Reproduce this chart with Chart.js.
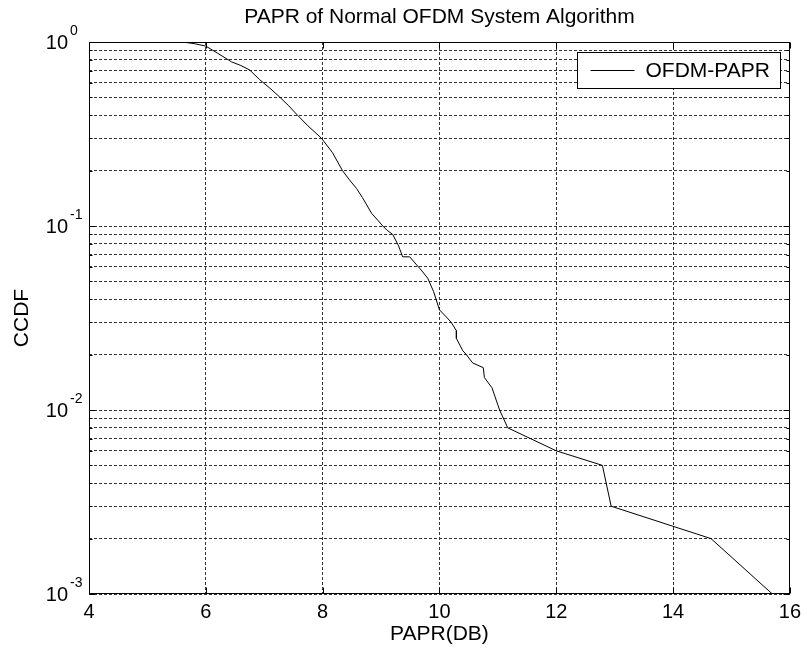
<!DOCTYPE html>
<html>
<head>
<meta charset="utf-8">
<script src="https://cdn.jsdelivr.net/npm/chart.js@4.4.0/dist/chart.umd.min.js"></script>
<style>
  html, body { margin: 0; padding: 0; background: #fff; }
  #wrap { width: 807px; height: 654px; }
</style>
</head>
<body>
<div id="wrap"><canvas id="papr"></canvas></div>
<script>
// PAPR (dB) values and the CCDF
var paprDb = [5.62, 5.8, 6.0, 6.2, 6.44, 6.6, 6.75, 6.92, 7.1, 7.26, 7.42, 7.57, 7.75, 7.98,
  8.17, 8.34, 8.46, 8.58, 8.68, 8.84, 8.95, 9.03, 9.1, 9.2, 9.3, 9.37, 9.49, 9.6, 9.7, 9.8,
  9.9, 10.0, 10.12, 10.2, 10.29, 10.29, 10.4, 10.46, 10.57, 10.75, 10.77, 10.9, 11.03, 11.17,
  12.0, 12.79, 12.94, 14.65, 15.7];
var ccdf = [0.998, 0.98, 0.95, 0.87, 0.78, 0.745, 0.705, 0.625, 0.56, 0.504, 0.45, 0.40, 0.35, 0.30,
  0.25, 0.20, 0.178, 0.16, 0.143, 0.117, 0.107, 0.100, 0.095, 0.09, 0.078, 0.068, 0.068, 0.062, 0.057, 0.052,
  0.044, 0.035, 0.032, 0.030, 0.027, 0.0245, 0.021, 0.020, 0.018, 0.017, 0.015, 0.0132, 0.010, 0.008,
  0.006, 0.005, 0.003, 0.002, 0.001];

var xTicks = [4, 6, 8, 10, 12, 14, 16];
var yDecades = [1, 0.1, 0.01, 0.001];
var yExponents = ["0", "-1", "-2", "-3"];
var yMinor = [2, 3, 4, 5, 6, 7, 8, 9];
var chartTitle = "PAPR of Normal OFDM System Algorithm";

var FONT = "'Liberation Sans', Arial, Helvetica, sans-serif";

var yGridValues = [];
yDecades.forEach(function(d){
  yGridValues.push(d);
  if (d < 1) yMinor.forEach(function(m){ yGridValues.push(m * d); });
});

var points = paprDb.map(function(x, i){ return {x: x, y: ccdf[i]}; });

// box, inward ticks, superscript y labels, title and legend, matlab style
var matlabFrame = {
  id: "matlabFrame",
  afterDatasetsDraw: function(chart){
    var ctx = chart.ctx, a = chart.chartArea;
    var xs = chart.scales.x, ys = chart.scales.y;
    var L = Math.round(a.left) + 0.5, R = Math.round(a.right) - 0.5;
    var T = Math.round(a.top) + 0.5, B = Math.round(a.bottom) - 0.5;
    ctx.save();
    ctx.strokeStyle = "#000";
    ctx.lineWidth = 1;
    ctx.setLineDash([]);
    ctx.strokeRect(L, T, R - L, B - T);

    ctx.beginPath();
    xTicks.forEach(function(v){
      var px = Math.round(xs.getPixelForValue(v)) + 0.5;
      ctx.moveTo(px, B); ctx.lineTo(px, B - 6);
      ctx.moveTo(px, T); ctx.lineTo(px, T + 6);
    });
    yGridValues.forEach(function(v){
      var py = Math.round(ys.getPixelForValue(v)) + 0.5;
      var len = yDecades.indexOf(v) >= 0 ? 6 : 3;
      ctx.moveTo(L, py); ctx.lineTo(L + len, py);
      ctx.moveTo(R, py); ctx.lineTo(R - len, py);
    });
    ctx.stroke();

    ctx.fillStyle = "#000";
    ctx.textBaseline = "middle";
    yDecades.forEach(function(v, i){
      var py = ys.getPixelForValue(v);
      ctx.font = "20px " + FONT;
      ctx.textAlign = "right";
      ctx.fillText("10", 68, py + 1);
      ctx.font = "14px " + FONT;
      ctx.textAlign = "left";
      ctx.fillText(yExponents[i], 70, py - 11);
    });

    // title over the axes box
    ctx.font = "21px " + FONT;
    ctx.textAlign = "center";
    ctx.fillText(chartTitle, (a.left + a.right) / 2, 17);

    // legend
    var lw = 203, lh = 36;
    var lx = R - 9 - lw, ly = T + 10;
    ctx.fillStyle = "#fff";
    ctx.fillRect(lx, ly, lw, lh);
    ctx.strokeRect(lx, ly, lw, lh);
    ctx.beginPath();
    ctx.moveTo(lx + 13, ly + 18);
    ctx.lineTo(lx + 57, ly + 18);
    ctx.stroke();
    ctx.fillStyle = "#000";
    ctx.font = "21px " + FONT;
    ctx.textAlign = "left";
    ctx.fillText(chart.data.datasets[0].label, lx + 68, ly + 19);
    ctx.restore();
  }
};

var chart = new Chart(document.getElementById("papr"), {
  type: "line",
  data: {
    datasets: [{
      label: "OFDM-PAPR",
      data: points,
      borderColor: "#000",
      borderWidth: 1,
      pointRadius: 0,
      tension: 0,
      fill: false
    }]
  },
  options: {
    responsive: true,
    maintainAspectRatio: false,
    animation: false,
    layout: { padding: { left: 0, right: 16, top: 42, bottom: 0 } },
    plugins: {
      legend: { display: false },
      tooltip: { enabled: false },
      title: { display: false }
    },
    scales: {
      x: {
        type: "linear",
        min: 4,
        max: 16,
        afterBuildTicks: function(scale){
          scale.ticks = xTicks.map(function(v){ return {value: v}; });
        },
        afterFit: function(scale){ scale.height = 60; },
        grid: { color: "#333", lineWidth: 1, drawTicks: false },
        border: { display: false, dash: [3, 2] },
        ticks: {
          color: "#000",
          padding: 6,
          maxRotation: 0,
          autoSkip: false,
          font: { family: FONT, size: 20 }
        },
        title: {
          display: true,
          text: "PAPR(DB)",
          color: "#000",
          font: { family: FONT, size: 21 },
          padding: { top: 0, bottom: 7.4 }
        }
      },
      y: {
        type: "logarithmic",
        min: 0.001,
        max: 1,
        afterBuildTicks: function(scale){
          scale.ticks = yGridValues.map(function(v){ return {value: v}; });
        },
        afterFit: function(scale){ scale.width = 89; },
        grid: { color: "#333", lineWidth: 1, drawTicks: false },
        border: { display: false, dash: [3, 2] },
        ticks: { display: false },
        title: {
          display: true,
          text: "CCDF",
          color: "#000",
          font: { family: FONT, size: 21 },
          padding: { top: 9.4, bottom: 0 }
        }
      }
    }
  },
  plugins: [matlabFrame]
});
</script>
</body>
</html>
